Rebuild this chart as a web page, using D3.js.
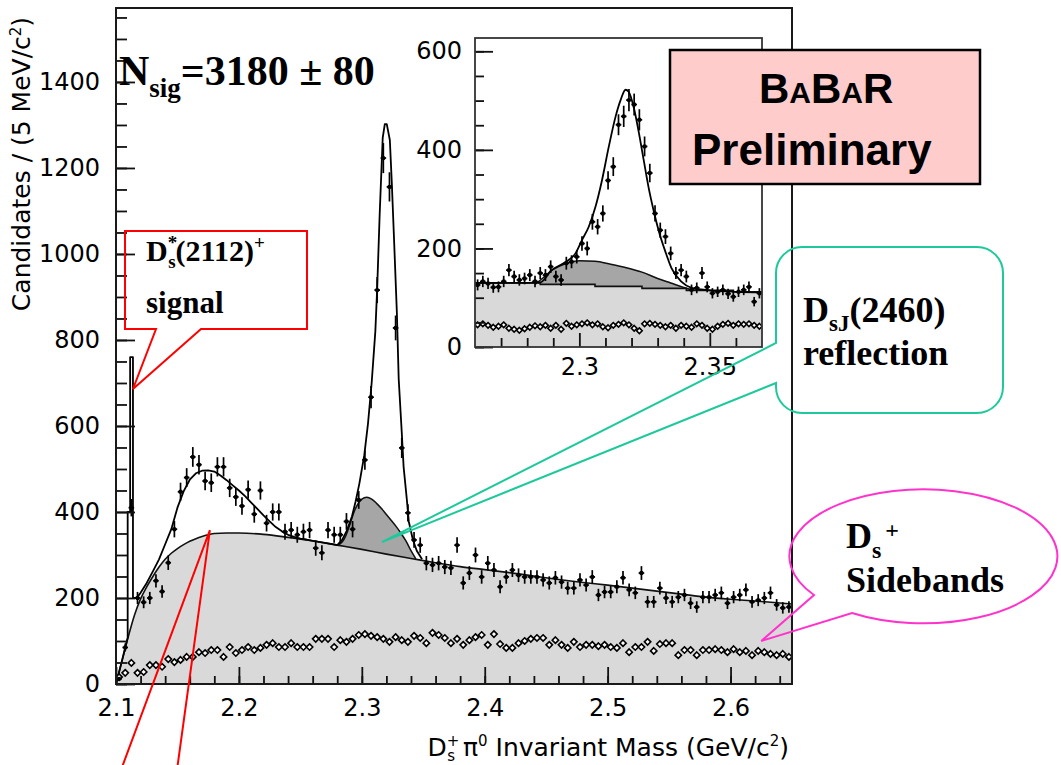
<!DOCTYPE html>
<html>
<head>
<meta charset="utf-8">
<script src="https://cdn.jsdelivr.net/npm/d3@7"></script>
<style>
  html, body { margin: 0; padding: 0; background: #fff; }
  svg { display: block; }
  .axis text { font-family: "DejaVu Sans", sans-serif; fill: #000; }
  .axis line { stroke: #111; stroke-width: 1.8; }
</style>
</head>
<body>
<svg id="chart" width="1061" height="765"></svg>
<script>
// ---------------- Main histogram: Ds+ pi0 mass, 5 MeV bins from 2.100 GeV ----------------
const massStart = 2.1;
const binWidth = 0.005;
const candidates = [
  12, 85, 410, 200, 190, 200, 240, 215, 282, 360,
  447, 480, 528, 510, 472, 468, 505, 505, 456, 435,
  414, 452, 395, 450, 374, 400, 400, 354, 358, 347,
  354, 358, 316, 305, 358, 347, 347, 378, 360, 428,
  521, 667, 916, 1223, 1156, 828, 549, 398, 335, 323,
  281, 277, 281, 272, 270, 323, 235, 258, 300, 249,
  281, 265, 226, 249, 265, 253, 249, 249, 249, 242,
  235, 247, 237, 223, 223, 242, 230, 249, 207, 214,
  214, 226, 247, 219, 212, 258, 191, 191, 223, 200,
  191, 202, 207, 188, 179, 202, 202, 207, 212, 188,
  202, 207, 219, 191, 195, 200, 212, 184, 177, 179
];
const sidebands = [
  16, 26, 49, 26, 28, 44, 44, 40, 58, 51,
  56, 63, 63, 74, 72, 79, 79, 63, 86, 72,
  79, 86, 79, 84, 91, 95, 86, 86, 95, 86,
  86, 86, 105, 105, 105, 86, 102, 98, 105, 114,
  116, 112, 109, 105, 98, 109, 102, 98, 112, 107,
  95, 119, 114, 107, 95, 105, 91, 102, 109, 114,
  91, 116, 93, 84, 84, 95, 100, 105, 107, 107,
  91, 102, 91, 84, 98, 86, 91, 91, 88, 91,
  86, 84, 95, 74, 86, 86, 98, 77, 93, 95,
  95, 67, 79, 79, 67, 79, 79, 81, 79, 74,
  81, 74, 77, 67, 77, 74, 70, 67, 70, 63
];

// Fitted background (light grey)
const bkgMass = [2.100, 2.105, 2.110, 2.115, 2.120, 2.125, 2.130, 2.135, 2.140, 2.145,
  2.150, 2.155, 2.160, 2.165, 2.170, 2.175, 2.180, 2.190, 2.200, 2.220,
  2.240, 2.260, 2.280, 2.300, 2.320, 2.340, 2.360, 2.380, 2.400, 2.420,
  2.440, 2.460, 2.480, 2.500, 2.520, 2.540, 2.560, 2.580, 2.600, 2.620, 2.650];
const bkgFit = [0, 55, 110, 160, 198, 226, 250, 272, 290, 304,
  315, 324, 332, 338, 343, 347, 350, 351, 351, 348,
  341, 333, 323, 313, 302, 292, 282, 273, 266, 259,
  251, 243, 236, 230, 223, 216, 209, 202, 197, 193, 186];

// DsJ(2460) reflection on top of the background (dark grey)
const reflMass = [2.280, 2.284, 2.287, 2.290, 2.293, 2.296, 2.300, 2.304, 2.308,
  2.312, 2.316, 2.320, 2.324, 2.328, 2.332, 2.336, 2.340, 2.344];
const reflFit = [323, 330, 345, 368, 395, 415, 430, 434, 430,
  420, 408, 394, 380, 366, 350, 332, 310, 291];

// Total fit (signal + reflection + background)
const totalMass = [2.100, 2.105, 2.1095, 2.1095, 2.1115, 2.1115, 2.1138, 2.1138, 2.1168, 2.120,
  2.125, 2.130, 2.135, 2.140, 2.145, 2.150, 2.155, 2.160, 2.165, 2.170,
  2.175, 2.180, 2.185, 2.190, 2.195, 2.200, 2.205, 2.210, 2.215, 2.220,
  2.225, 2.230, 2.235, 2.240, 2.245, 2.250, 2.255, 2.260, 2.270, 2.280,
  2.284, 2.288, 2.292, 2.295, 2.298, 2.302, 2.305, 2.308, 2.311, 2.3125,
  2.3145, 2.317, 2.3187, 2.3203, 2.3228, 2.3244, 2.326, 2.3285, 2.330, 2.3325,
  2.334, 2.3366, 2.3382, 2.3415, 2.3447, 2.349];
const totalFit = [0, 56, 108, 400, 400, 760, 760, 200, 200, 212,
  235, 262, 290, 325, 360, 410, 448, 475, 490, 496,
  497, 494, 485, 474, 462, 450, 437, 422, 407, 392,
  378, 365, 355, 347, 342, 338, 336, 333, 328, 323,
  335, 358, 390, 425, 466, 532, 605, 700, 820, 920,
  1090, 1270, 1302, 1302, 1265, 1165, 1050, 865, 710, 585,
  505, 430, 378, 336, 310, 290];

const mainXTicks = [2.1, 2.2, 2.3, 2.4, 2.5, 2.6];
const mainYTicks = [0, 200, 400, 600, 800, 1000, 1200, 1400];

// ---------------- Inset: 2 MeV bins from 2.260 GeV ----------------
const insetStart = 2.26;
const insetBinWidth = 0.002;
const insetCandidates = [
  126, 133, 129, 121, 122, 133, 156, 143, 136, 139,
  146, 133, 150, 146, 163, 143, 136, 170, 173, 183,
  210, 200, 254, 244, 271, 338, 366, 451, 468, 501,
  492, 461, 407, 353, 271, 237, 224, 190, 150, 156,
  143, 116, 120, 150, 122, 109, 112, 116, 108, 102,
  112, 116, 122, 92, 109
];
const insetSidebands = [
  45, 47, 44, 40, 42, 45, 38, 36, 34, 37,
  40, 43, 41, 44, 38, 44, 36, 48, 42, 45,
  47, 49, 45, 47, 41, 39, 44, 46, 49, 45,
  38, 33, 47, 48, 46, 44, 41, 44, 38, 44,
  42, 40, 47, 44, 38, 36, 42, 46, 48, 44,
  47, 46, 47, 44, 42
];
const insetBkgMass = [2.260, 2.285, 2.306, 2.324, 2.341, 2.359, 2.370];
const insetBkgFit = [130, 127, 123, 119, 115, 112, 112];
const insetReflMass = [2.283, 2.286, 2.289, 2.292, 2.295, 2.300, 2.306, 2.312,
  2.318, 2.324, 2.330, 2.335, 2.340, 2.344];
const insetReflFit = [127, 140, 154, 163, 170, 175, 174, 168,
  161, 152, 139, 130, 121, 115];
const insetFitMass = [2.260, 2.270, 2.280, 2.285, 2.2894, 2.2946, 2.2985, 2.301, 2.3036, 2.3062,
  2.3087, 2.3113, 2.3139, 2.3158, 2.3177, 2.3189, 2.3209, 2.3228, 2.3247, 2.3266,
  2.3285, 2.3304, 2.333, 2.3353, 2.3392, 2.343, 2.350, 2.360, 2.370];
const insetFit = [130, 130, 130, 131, 156, 172, 190, 217, 244, 285,
  339, 407, 468, 501, 522, 518, 485, 435, 378, 322,
  276, 236, 193, 160, 132, 120, 115, 112, 111];
const insetXTicks = [2.3, 2.35];
const insetYTicks = [0, 200, 400, 600];

// ---------------- drawing ----------------
const svg = d3.select("#chart");
const defs = svg.append("defs");

const LIGHT = "#d9d9d9", DARK = "#a6a6a6";
const diamondType = d3.symbolDiamond2 || d3.symbolDiamond;

function drawHistogramPanel(root, box, xDomain, yMax, opts) {
  const x = d3.scaleLinear().domain(xDomain).range([box.left, box.right]);
  const y = d3.scaleLinear().domain([0, yMax]).range([box.bottom, box.top]);
  const id = "clip-" + opts.name;
  defs.append("clipPath").attr("id", id).append("rect")
    .attr("x", box.left).attr("y", box.top)
    .attr("width", box.right - box.left).attr("height", box.bottom - box.top);

  root.append("rect")
    .attr("x", box.left).attr("y", box.top)
    .attr("width", box.right - box.left).attr("height", box.bottom - box.top)
    .attr("fill", "#fff");

  const plot = root.append("g").attr("clip-path", `url(#${id})`);

  // reflection (dark grey) filled to the axis, then background covers its lower part
  plot.append("path")
    .datum(d3.zip(opts.reflMass, opts.reflFit))
    .attr("fill", DARK)
    .attr("d", d3.area().x(d => x(d[0])).y0(y(0)).y1(d => y(d[1])).curve(d3.curveMonotoneX));

  const bkgCurve = opts.bkgCurve;
  plot.append("path")
    .datum(d3.zip(opts.bkgMass, opts.bkgFit))
    .attr("fill", LIGHT)
    .attr("d", d3.area().x(d => x(d[0])).y0(y(0)).y1(d => y(d[1])).curve(bkgCurve));

  const line = (curve) => d3.line().x(d => x(d[0])).y(d => y(d[1])).curve(curve);
  plot.append("path")
    .datum(d3.zip(opts.reflMass, opts.reflFit))
    .attr("fill", "none").attr("stroke", "#111").attr("stroke-width", 1.5)
    .attr("d", line(d3.curveMonotoneX));
  plot.append("path")
    .datum(d3.zip(opts.bkgMass, opts.bkgFit))
    .attr("fill", "none").attr("stroke", "#111").attr("stroke-width", 1.6)
    .attr("d", line(bkgCurve));
  plot.append("path")
    .datum(d3.zip(opts.fitMass, opts.fitVals))
    .attr("fill", "none").attr("stroke", "#000").attr("stroke-width", 1.8)
    .attr("stroke-linejoin", "round")
    .attr("d", line(opts.fitCurve));

  // sideband distribution: open diamonds
  const centers = opts.counts.map((_, i) => opts.start + opts.width * (i + 0.5));
  plot.append("g").selectAll("path")
    .data(d3.zip(centers, opts.side))
    .join("path")
    .attr("transform", d => `translate(${x(d[0])},${y(d[1])})`)
    .attr("d", d3.symbol().type(diamondType).size(opts.diamondSize))
    .attr("fill", "#fff").attr("stroke", "#000").attr("stroke-width", 1.6);

  // signal-region candidates with Poisson error bars
  const pts = plot.append("g").selectAll("g")
    .data(d3.zip(centers, opts.counts))
    .join("g");
  pts.append("line")
    .attr("x1", d => x(d[0])).attr("x2", d => x(d[0]))
    .attr("y1", d => y(d[1] - Math.sqrt(d[1]))).attr("y2", d => y(d[1] + Math.sqrt(d[1])))
    .attr("stroke", "#000").attr("stroke-width", 1.7);
  pts.append("line")
    .attr("x1", d => x(d[0]) - 2.8).attr("x2", d => x(d[0]) + 2.8)
    .attr("y1", d => y(d[1])).attr("y2", d => y(d[1]))
    .attr("stroke", "#000").attr("stroke-width", 1.7);
  pts.append("circle")
    .attr("cx", d => x(d[0])).attr("cy", d => y(d[1])).attr("r", 2.2)
    .attr("fill", "#000");

  // axes with inward ticks
  const fs = opts.fontSize;
  const yMinor = root.append("g").attr("class", "axis")
    .attr("transform", `translate(${box.left},0)`)
    .call(d3.axisLeft(y).tickValues(opts.yMinor).tickSize(-opts.yMinorLen).tickFormat(""));
  const yMajor = root.append("g").attr("class", "axis")
    .attr("transform", `translate(${box.left},0)`)
    .call(d3.axisLeft(y).tickValues(opts.yTicks).tickSize(-opts.yMajorLen)
      .tickPadding(opts.yPad).tickFormat(d3.format("d")));
  const xMinor = root.append("g").attr("class", "axis")
    .attr("transform", `translate(0,${box.bottom})`)
    .call(d3.axisBottom(x).tickValues(opts.xMinor).tickSize(-opts.xMinorLen).tickFormat(""));
  const xMajor = root.append("g").attr("class", "axis")
    .attr("transform", `translate(0,${box.bottom})`)
    .call(d3.axisBottom(x).tickValues(opts.xTicks).tickSize(-opts.xMajorLen)
      .tickPadding(opts.xPad).tickFormat(d => String(+d.toFixed(2))));
  [yMinor, yMajor, xMinor, xMajor].forEach(g => {
    g.select(".domain").remove();
    g.selectAll("text").attr("font-size", fs).attr("font-family", '"DejaVu Sans", sans-serif');
  });

  root.append("rect")
    .attr("x", box.left).attr("y", box.top)
    .attr("width", box.right - box.left).attr("height", box.bottom - box.top)
    .attr("fill", "none").attr("stroke", opts.frameColor).attr("stroke-width", opts.frameWidth);

  return { x, y };
}

// main panel
const mainBox = { left: 116, top: 8, right: 792, bottom: 684 };
const mainG = svg.append("g");
const M = drawHistogramPanel(mainG, mainBox, [2.1, 2.65], 1572, {
  name: "main",
  start: massStart, width: binWidth, counts: candidates, side: sidebands,
  bkgMass, bkgFit, bkgCurve: d3.curveMonotoneX,
  reflMass, reflFit,
  fitMass: totalMass, fitVals: totalFit, fitCurve: d3.curveLinear,
  diamondSize: 26,
  yTicks: mainYTicks, yMinor: d3.range(0, 1571, 50),
  xTicks: mainXTicks, xMinor: d3.range(0, 28).map(k => 2.1 + 0.02 * k),
  yMajorLen: 19, yMinorLen: 11, xMajorLen: 17, xMinorLen: 8,
  yPad: 16, xPad: 15, fontSize: 24,
  frameColor: "#1a1a1a", frameWidth: 2
});

// axis titles
svg.append("text")
  .attr("transform", "translate(30,164) rotate(-90)")
  .attr("text-anchor", "middle")
  .attr("font-family", '"DejaVu Sans", sans-serif').attr("font-size", 25)
  .call(t => {
    t.append("tspan").text("Candidates / (5 MeV/c");
    t.append("tspan").attr("dy", -9).attr("font-size", 15).text("2");
    t.append("tspan").attr("dy", 9).text(")");
  });

svg.append("text")
  .attr("x", 789).attr("y", 756)
  .attr("text-anchor", "end")
  .attr("font-family", '"DejaVu Sans", sans-serif').attr("font-size", 25)
  .call(t => {
    t.append("tspan").text("D");
    t.append("tspan").attr("dy", -10).attr("font-size", 15).text("+");
    t.append("tspan").attr("dx", -12).attr("dy", 15).attr("font-size", 15).text("s");
    t.append("tspan").attr("dy", -5).text(" \u03C0");
    t.append("tspan").attr("dy", -10).attr("font-size", 15).text("0");
    t.append("tspan").attr("dy", 10).text(" Invariant Mass (GeV/c");
    t.append("tspan").attr("dy", -10).attr("font-size", 15).text("2");
    t.append("tspan").attr("dy", 10).text(")");
  });

// inset panel
const insetBox = { left: 475, top: 38, right: 762, bottom: 347 };
const insetG = svg.append("g");
drawHistogramPanel(insetG, insetBox, [2.26, 2.37], 627, {
  name: "inset",
  start: insetStart, width: insetBinWidth, counts: insetCandidates, side: insetSidebands,
  bkgMass: insetBkgMass, bkgFit: insetBkgFit, bkgCurve: d3.curveStepAfter,
  reflMass: insetReflMass, reflFit: insetReflFit,
  fitMass: insetFitMass, fitVals: insetFit, fitCurve: d3.curveMonotoneX,
  diamondSize: 20,
  yTicks: insetYTicks, yMinor: d3.range(0, 627, 50),
  xTicks: insetXTicks, xMinor: [2.27, 2.28, 2.29, 2.31, 2.32, 2.33, 2.34, 2.36],
  yMajorLen: 18, yMinorLen: 9, xMajorLen: 14, xMinorLen: 9,
  yPad: 13, xPad: 11, fontSize: 24,
  frameColor: "#333", frameWidth: 1.8
});

// ---------------- annotations ----------------
const serif = '"Liberation Serif", "Times New Roman", serif';
const sans = '"Liberation Sans", Arial, sans-serif';

// signal yield
svg.append("text")
  .attr("x", 119).attr("y", 85)
  .attr("font-family", serif).attr("font-weight", "bold").attr("font-size", 42)
  .call(t => {
    t.append("tspan").text("N");
    t.append("tspan").attr("dy", 12).attr("font-size", 27).text("sig");
    t.append("tspan").attr("dy", -12).text("=3180 \u00B1 80");
  });

// D*s(2112)+ callout (red)
const dsStarTip = [M.x(2.1138), M.y(686)];
svg.append("path")
  .attr("d", `M125,231 H307 V329 H201 L${dsStarTip[0]},${dsStarTip[1]} L156,329 H125 Z`)
  .attr("fill", "none").attr("stroke", "#ff0000").attr("stroke-width", 2);
svg.append("text")
  .attr("x", 146).attr("y", 261)
  .attr("font-family", serif).attr("font-weight", "bold").attr("font-size", 30)
  .call(t => {
    t.append("tspan").text("D");
    t.append("tspan").attr("dy", -12).attr("font-size", 19).text("*");
    t.append("tspan").attr("dx", -9).attr("dy", 19).attr("font-size", 19).text("s");
    t.append("tspan").attr("dy", -7).text("(2112)");
    t.append("tspan").attr("dy", -12).attr("font-size", 19).text("+");
  });
svg.append("text")
  .attr("x", 146).attr("y", 313)
  .attr("font-family", serif).attr("font-weight", "bold").attr("font-size", 31)
  .text("signal");

// pointer lines to the background shape (red)
const bumpTip = [M.x(2.1764), M.y(358)];
svg.append("path")
  .attr("d", `M${bumpTip[0]},${bumpTip[1]} L121,770 M${bumpTip[0]},${bumpTip[1]} L177,770`)
  .attr("fill", "none").attr("stroke", "#ff0000").attr("stroke-width", 2);

// BaBar Preliminary box
svg.append("rect")
  .attr("x", 670).attr("y", 50).attr("width", 310).attr("height", 134)
  .attr("fill", "#ffcccc").attr("stroke", "#000").attr("stroke-width", 2.5);
svg.append("text")
  .attr("x", 759).attr("y", 103)
  .attr("font-family", sans).attr("font-weight", "bold").attr("font-size", 42)
  .call(t => {
    t.append("tspan").text("B");
    t.append("tspan").attr("font-size", 30).text("A");
    t.append("tspan").text("B");
    t.append("tspan").attr("font-size", 30).text("A");
    t.append("tspan").text("R");
  });
svg.append("text")
  .attr("x", 692).attr("y", 165)
  .attr("font-family", sans).attr("font-weight", "bold").attr("font-size", 44)
  .text("Preliminary");

// DsJ(2460) reflection callout (green)
const reflTip = [M.x(2.3163), M.y(330)];
const GREEN = "#1dc99b";
svg.append("path")
  .attr("d", `M802,247 H977 A26,26 0 0 1 1003,273 V387 A26,26 0 0 1 977,413 H802 A26,26 0 0 1 776,387 V383 L${reflTip[0]},${reflTip[1]} L776,343 V273 A26,26 0 0 1 802,247 Z`)
  .attr("fill", "none").attr("stroke", GREEN).attr("stroke-width", 2);
svg.append("text")
  .attr("x", 803).attr("y", 322)
  .attr("font-family", serif).attr("font-weight", "bold").attr("font-size", 36)
  .call(t => {
    t.append("tspan").text("D");
    t.append("tspan").attr("dy", 9).attr("font-size", 23).text("sJ");
    t.append("tspan").attr("dy", -9).text("(2460)");
  });
svg.append("text")
  .attr("x", 803).attr("y", 365)
  .attr("font-family", serif).attr("font-weight", "bold").attr("font-size", 36)
  .text("reflection");

// Ds+ sidebands callout (magenta)
const sideTip = [M.x(2.625), M.y(100)];
const PINK = "#ff33cc";
svg.append("path")
  .attr("d", `M852,613 A134,67 0 1 0 814,595 L${sideTip[0]},${sideTip[1]} Z`)
  .attr("fill", "none").attr("stroke", PINK).attr("stroke-width", 2);
svg.append("text")
  .attr("x", 846).attr("y", 548)
  .attr("font-family", serif).attr("font-weight", "bold").attr("font-size", 36)
  .call(t => {
    t.append("tspan").text("D");
    t.append("tspan").attr("dy", 10).attr("font-size", 24).text("s");
    t.append("tspan").attr("dx", 4).attr("dy", -20).attr("font-size", 24).text("+");
  });
svg.append("text")
  .attr("x", 846).attr("y", 592)
  .attr("font-family", serif).attr("font-weight", "bold").attr("font-size", 36)
  .text("Sidebands");
</script>
</body>
</html>
